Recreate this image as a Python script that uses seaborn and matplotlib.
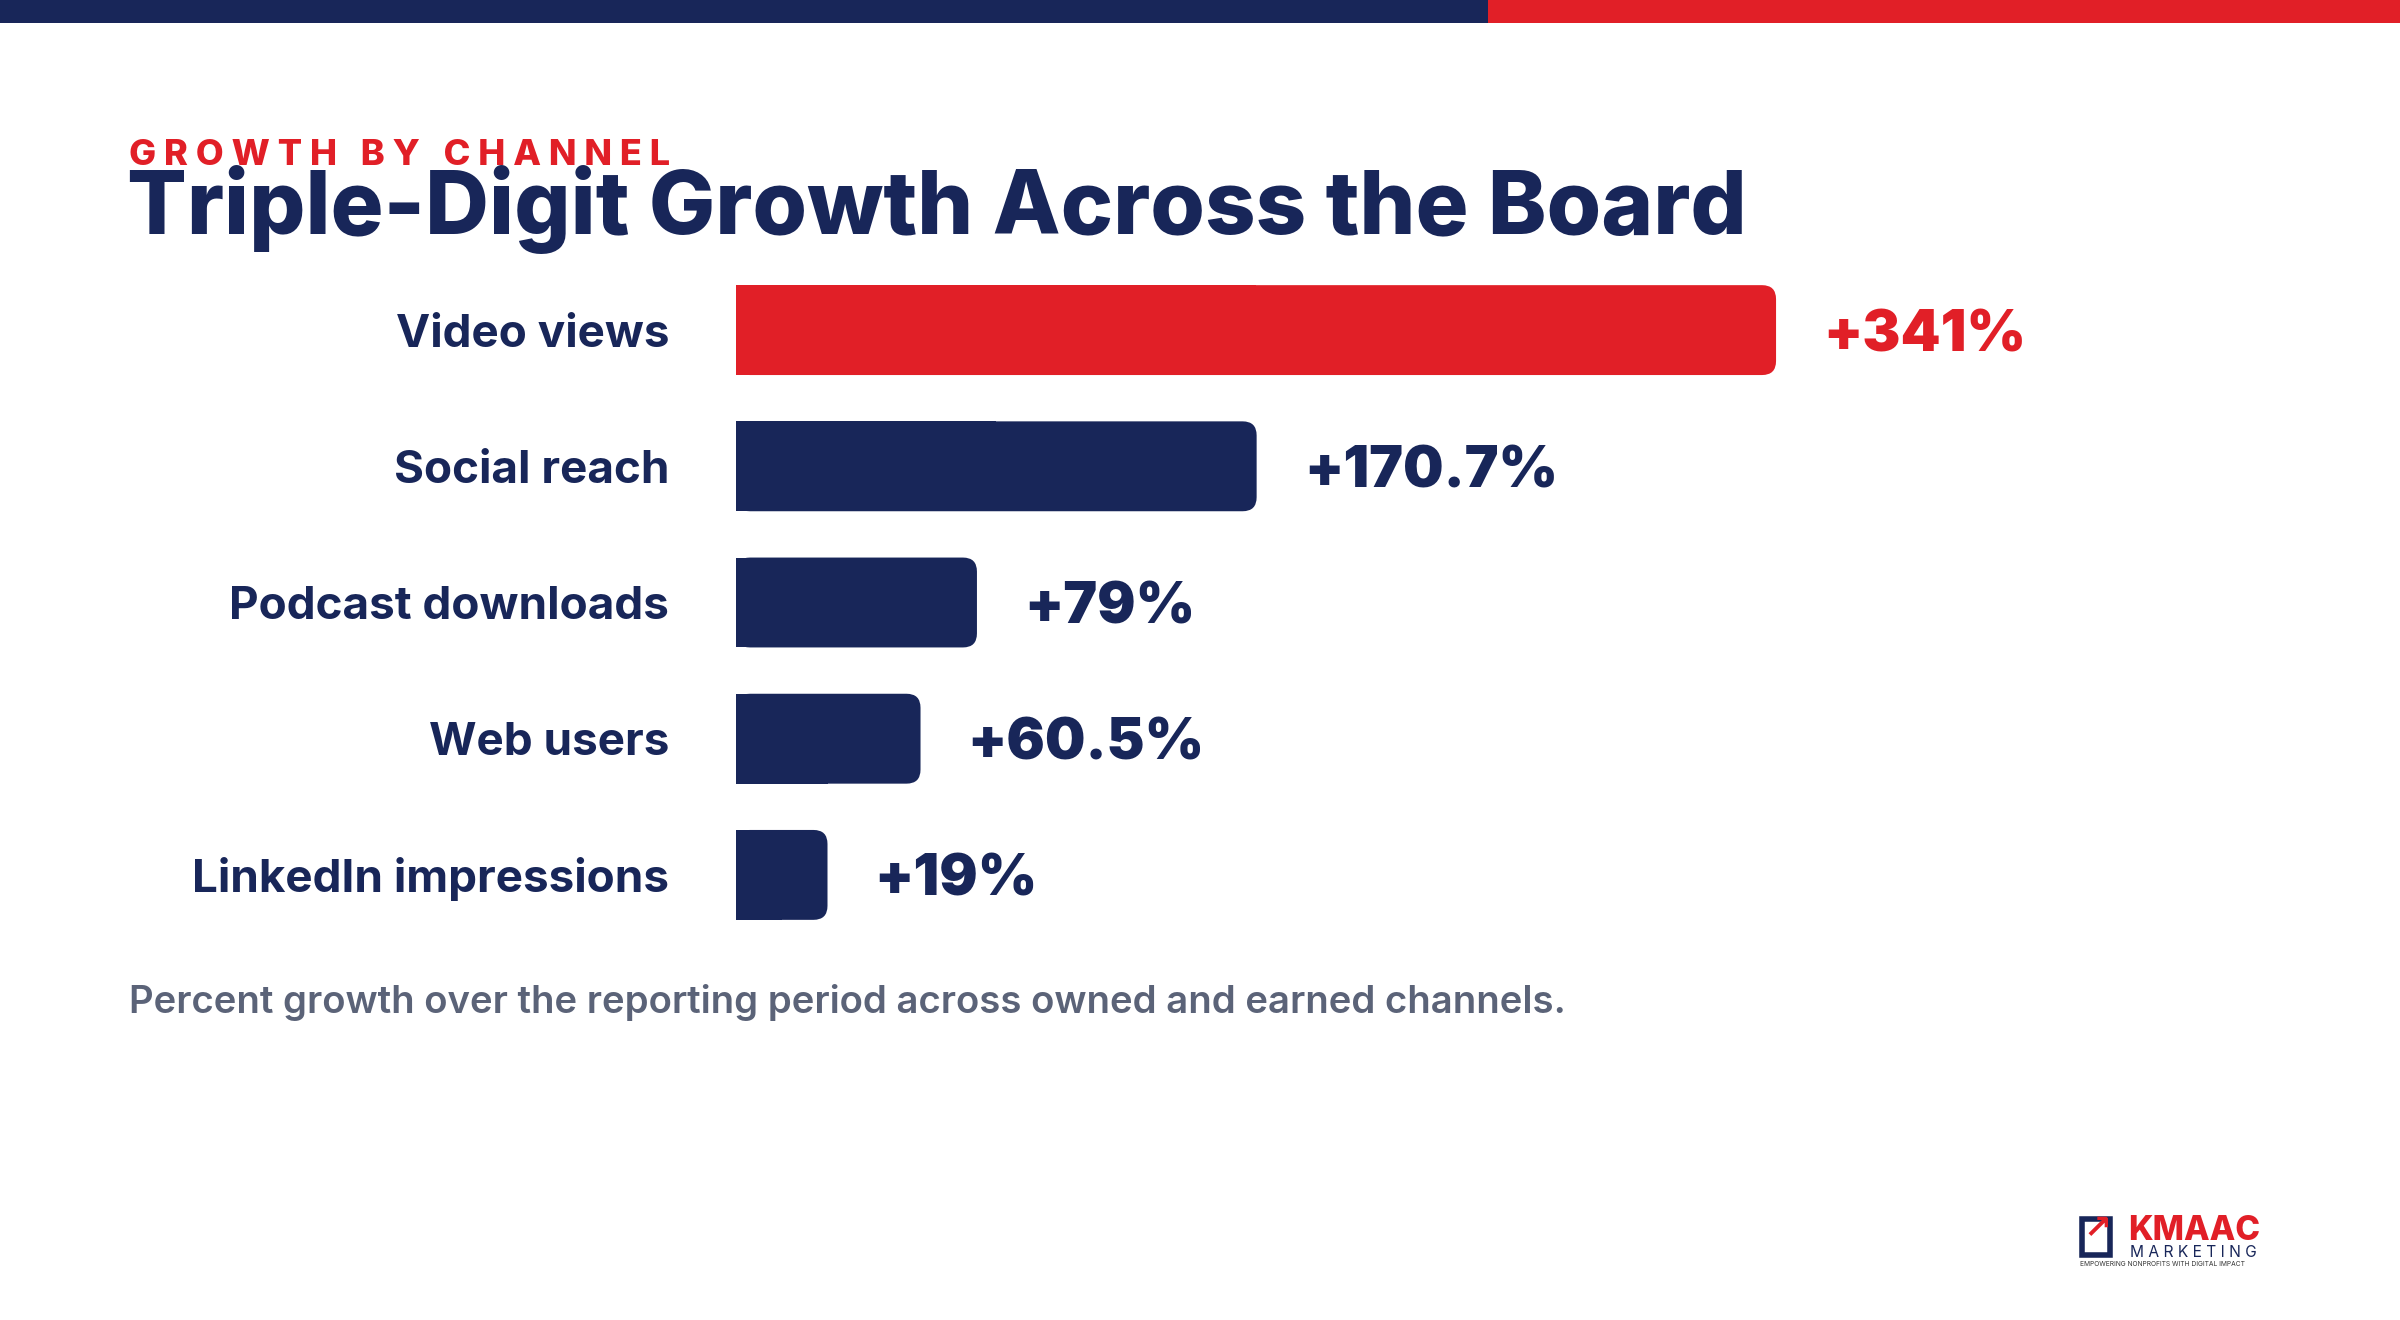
import numpy as np
import pandas as pd
import matplotlib
matplotlib.use("Agg")
import matplotlib.pyplot as plt
import seaborn as sns
from matplotlib.patches import FancyBboxPatch, Rectangle

# data
channels = ["Video views", "Social reach", "Podcast downloads", "Web users", "LinkedIn impressions"]
growth = [341, 170.7, 79, 60.5, 19]
value_labels = ["+341%", "+170.7%", "+79%", "+60.5%", "+19%"]
highlight = ["Video views"]

NAVY = "#182659"
RED = "#e11f27"
GREY = "#5b6378"
W, H = 2400, 1320


def fx(x):
    return x / W


def fy(y):
    return 1 - y / H


sns.set_theme(style="white")
plt.rcParams["font.family"] = ["Inter", "DejaVu Sans"]

fig = plt.figure(figsize=(12, 6.6), dpi=200)
fig.patch.set_facecolor("white")

# top stripe
fig.patches.append(Rectangle((0, fy(23)), fx(1488), 23 / H, transform=fig.transFigure,
                             facecolor=NAVY, edgecolor="none"))
fig.patches.append(Rectangle((fx(1488), fy(23)), 1 - fx(1488), 23 / H, transform=fig.transFigure,
                             facecolor=RED, edgecolor="none"))

# headings
fig.text(fx(129), fy(165), "G R O W T H   B Y   C H A N N E L", color=RED, fontsize=13,
         fontweight=800, va="baseline", ha="left")
fig.text(fx(127), fy(234), "Triple-Digit Growth Across the Board", color=NAVY, fontsize=31.8,
         fontweight=800, va="baseline", ha="left")

# bar axes: left edge at x=736px, 3.05 px per percent
ax_left, ax_right = 736, 2300
ax_top, ax_bot = 262, 943
ax = fig.add_axes([fx(ax_left), fy(ax_bot), (ax_right - ax_left) / W, (ax_bot - ax_top) / H])

min_len = 30
df = pd.DataFrame({"channel": channels, "growth": growth, "label": value_labels})
df["bar_len"] = np.maximum(df["growth"], min_len)
df["kind"] = np.where(df["channel"].isin(highlight), "hi", "lo")

sns.barplot(data=df, y="channel", x="bar_len", hue="kind", palette={"hi": RED, "lo": NAVY},
            orient="h", width=0.66, saturation=1, legend=False, ax=ax)
ax.set_xlim(0, (ax_right - ax_left) / 3.05)
ax.set_ylim(4.5, -0.5)

# rounded right ends
r_x = 14 / 3.05
r_y = 14 / 136
for p in list(ax.patches):
    x0, y0 = p.get_x(), p.get_y()
    w, h = p.get_width(), p.get_height()
    c = p.get_facecolor()
    p.set_visible(False)
    ax.add_patch(FancyBboxPatch((x0, y0), w, h, boxstyle=f"round,pad=0,rounding_size={r_x}",
                                mutation_aspect=r_y / r_x, facecolor=c, edgecolor="none"))
    ax.add_patch(Rectangle((x0, y0), w / 2, h, facecolor=c, edgecolor="none"))

for i, row in df.iterrows():
    ax.annotate(row["label"], (row["bar_len"], i), xytext=(17, 0), textcoords="offset points",
                ha="left", va="center_baseline", fontsize=20.5, fontweight=900,
                color=RED if row["kind"] == "hi" else NAVY)

ax.set_xlabel("")
ax.set_ylabel("")
ax.set_xticks([])
ax.tick_params(axis="y", length=0, pad=24)
for t in ax.get_yticklabels():
    t.set_fontsize(16.5)
    t.set_fontweight(700)
    t.set_color(NAVY)
    t.set_verticalalignment("center_baseline")
sns.despine(ax=ax, left=True, bottom=True)

# footnote
fig.text(fx(129), fy(1013), "Percent growth over the reporting period across owned and earned channels.",
         color=GREY, fontsize=13.8, fontweight=600, va="baseline", ha="left")

# logo
fig.patches.append(Rectangle((fx(2082), fy(1255)), 28 / W, 36 / H, transform=fig.transFigure,
                             facecolor="none", edgecolor=NAVY, linewidth=2))
fig.text(fx(2083), fy(1238), "↗", color=RED, fontsize=12, fontweight="bold", va="baseline",
         family=["DejaVu Sans"])
fig.text(fx(2128), fy(1240), "KMAAC", color=RED, fontsize=12, fontweight=800, va="baseline")
fig.text(fx(2130), fy(1257), "M A R K E T I N G", color=NAVY, fontsize=5.6, va="baseline")
fig.text(fx(2080), fy(1266), "EMPOWERING NONPROFITS WITH DIGITAL IMPACT", color="#333333",
         fontsize=2.4, va="baseline")

fig.savefig("out.png", dpi=200, facecolor="white")
